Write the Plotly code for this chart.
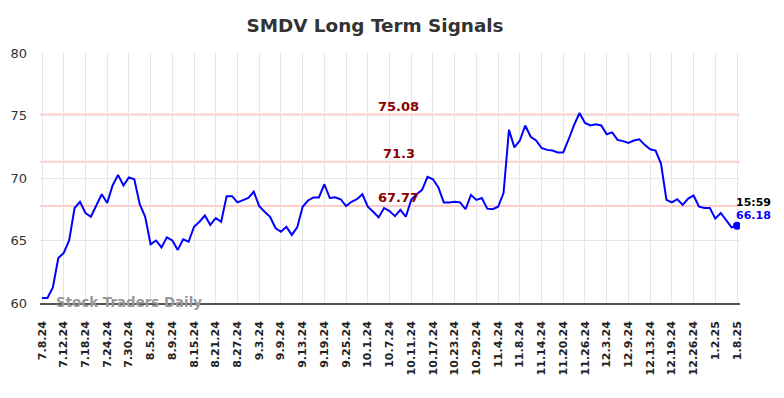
import pandas as pd
import plotly.graph_objects as go

# Trading days 7/8/24 .. 1/8/25
holidays = ["2024-09-02", "2024-11-28", "2024-12-25", "2025-01-01"]
days = [d for d in pd.bdate_range("2024-07-08", "2025-01-08") if d.strftime("%Y-%m-%d") not in holidays]
dates = [f"{d.month}.{d.day}.{d.strftime('%y')}" for d in days]

values = [
    60.4, 60.4, 61.25, 63.6, 64.0, 65.0, 67.6, 68.1, 67.2, 66.9,
    67.8, 68.7, 68.0, 69.4, 70.25, 69.4, 70.05, 69.9, 67.9, 66.9,
    64.7, 65.0, 64.45, 65.25, 65.0, 64.25, 65.1, 64.9, 66.1, 66.5,
    67.0, 66.25, 66.8, 66.5, 68.55, 68.55, 68.05, 68.2, 68.4, 68.9,
    67.75, 67.3, 66.9, 66.0, 65.7, 66.1, 65.45, 66.05, 67.7, 68.2,
    68.45, 68.45, 69.5, 68.4, 68.45, 68.3, 67.75, 68.1, 68.3, 68.7,
    67.7, 67.3, 66.85, 67.6, 67.35, 66.95, 67.45, 66.9, 68.25, 68.7,
    69.05, 70.1, 69.9, 69.25, 68.05, 68.05, 68.1, 68.05, 67.5, 68.65,
    68.25, 68.4, 67.55, 67.5, 67.7, 68.8, 73.85, 72.45, 73.0, 74.2,
    73.3, 73.0, 72.4, 72.25, 72.2, 72.05, 72.05, 73.1, 74.25, 75.2,
    74.4, 74.2, 74.3, 74.2, 73.5, 73.65, 73.05, 72.95, 72.8, 73.0,
    73.1, 72.65, 72.3, 72.2, 71.15, 68.25, 68.05, 68.3, 67.85, 68.35,
    68.6, 67.7, 67.6, 67.6, 66.75, 67.2, 66.65, 66.05, 66.18,
]

signal_levels = [75.08, 71.3, 67.77]
signal_labels = ["75.08", "71.3", "67.77"]
last_time = "15:59"
last_label = "66.18"
y_ticks = [60, 65, 70, 75, 80]
tick_dates = dates[::4]

FONT = "DejaVu Sans"
n = len(dates)
x = list(range(n))

fig = go.Figure()
fig.add_trace(go.Scatter(x=x, y=values, mode="lines",
                         line=dict(color="#0000ff", width=2), hoverinfo="skip"))
fig.add_trace(go.Scatter(x=[x[-1]], y=[values[-1]], mode="markers",
                         marker=dict(color="#0000ff", size=8), hoverinfo="skip"))

for lvl in signal_levels:
    fig.add_shape(type="line", xref="paper", x0=0, x1=1, y0=lvl, y1=lvl,
                  line=dict(color="#ffcccc", width=2), layer="below")

label_x = 65.7
for lvl, lab in zip(signal_levels, signal_labels):
    fig.add_annotation(x=label_x, y=lvl, text=f"<b>{lab}</b>", showarrow=False,
                       yanchor="bottom", yshift=-1,
                       font=dict(family=FONT, size=13, color="#8b0000"))

fig.add_annotation(x=x[-1], y=values[-1], text=f"<b>{last_time}</b>", showarrow=False,
                   xanchor="left", yanchor="middle", xshift=-3, yshift=23,
                   font=dict(family=FONT, size=11, color="#000000"))
fig.add_annotation(x=x[-1], y=values[-1], text=f"<b>{last_label}</b>", showarrow=False,
                   xanchor="left", yanchor="middle", xshift=-3, yshift=10,
                   font=dict(family=FONT, size=11, color="#0000ff"))

fig.add_annotation(xref="paper", yref="paper", x=0.02, y=0.0, text="<b>Stock Traders Daily</b>",
                   showarrow=False, xanchor="left", yanchor="middle", yshift=1,
                   font=dict(family=FONT, size=13.4, color="#999999"))

fig.update_layout(
    width=784, height=398,
    margin=dict(l=40, r=44, t=53, b=95, autoexpand=False),
    paper_bgcolor="white", plot_bgcolor="white",
    showlegend=False,
    title=dict(text="<b>SMDV Long Term Signals</b>", x=375 / 784, xanchor="center",
               y=1 - 26 / 398, yanchor="middle",
               font=dict(family=FONT, size=18.4, color="#333333")),
    xaxis=dict(range=[-0.37, n - 1 + 0.55], tickmode="array",
               tickvals=x[::4], ticktext=tick_dates, tickangle=-90,
               showgrid=True, gridcolor="#e6e6e6", gridwidth=1,
               showline=True, linecolor="#555555", linewidth=1.5,
               zeroline=False, ticks="", automargin=False,
               ticklabelstandoff=12,
               tickfont=dict(family=FONT, size=11, color="#222222", weight="bold")),
    yaxis=dict(range=[60, 80], tickvals=y_ticks,
               showgrid=True, gridcolor="#e6e6e6", gridwidth=1,
               zeroline=False, showline=False, ticks="", automargin=False,
               ticklabelstandoff=12,
               tickfont=dict(family=FONT, size=13, color="#333333")),
)

fig.write_html("out.html", config={"displayModeBar": False},
               post_script="document.body.style.margin='0';")
